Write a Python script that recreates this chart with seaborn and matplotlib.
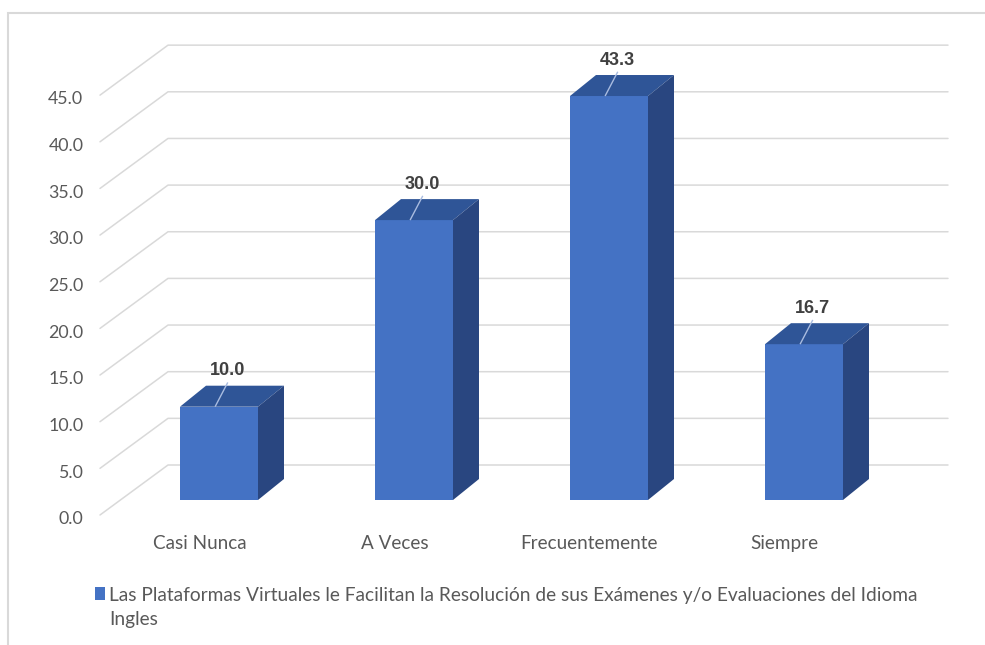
import matplotlib
matplotlib.use("Agg")
import matplotlib.pyplot as plt
import seaborn as sns
import pandas as pd
from matplotlib.patches import Polygon, Rectangle

# ---------------- data ----------------
categories = ["Casi Nunca", "A Veces", "Frecuentemente", "Siempre"]
values = [10.0, 30.0, 43.3, 16.7]
series_name = ("Las Plataformas Virtuales le Facilitan la Resolución de sus Exámenes y/o "
               "Evaluaciones del Idioma\nIngles")
y_ticks = [0, 5, 10, 15, 20, 25, 30, 35, 40, 45]
y_tick_labels = [f"{v:.1f}" for v in y_ticks]

# ---------------- style ----------------
sns.set_style("white")
plt.rcParams['font.family'] = ['Lato', 'DejaVu Sans']

FRONT = "#4472C4"
TOP = "#2F5597"
SIDE = "#294680"
GRID = "#D9D9D9"
TXT = "#595959"

W, H = 985, 645
fig = plt.figure(figsize=(W / 100, H / 100), dpi=100)

# pixel geometry of the pseudo-3D plane
PX_X, X0 = 195.0, 219.0          # px per category, px of category 0 centre
PX_Y, Y0 = 9.33, 500.0           # px per unit, px (from top) of value 0 on bar plane
x_left_px, x_right_px = 100, 948
xlim = ((x_left_px - X0) / PX_X, (x_right_px - X0) / PX_X)
ylim = (-2.0, 50.5)
bottom_px = Y0 - ylim[0] * PX_Y
top_px = Y0 - ylim[1] * PX_Y
ax = fig.add_axes([x_left_px / W, (H - bottom_px) / H,
                   (x_right_px - x_left_px) / W, (bottom_px - top_px) / H])

df = pd.DataFrame({"categoria": categories, "valor": values})
sns.barplot(data=df, x="categoria", y="valor", color=FRONT, saturation=1,
            width=0.4, ax=ax, zorder=3, edgecolor="none")

bars = list(ax.patches)
DX = 26 / PX_X
DY = 21 / PX_Y
for bar in bars:
    x0 = bar.get_x()
    w = bar.get_width()
    h = bar.get_height()
    x1 = x0 + w
    ax.add_patch(Polygon([(x0, h), (x1, h), (x1 + DX, h + DY), (x0 + DX, h + DY)],
                         closed=True, fc=TOP, ec="none", zorder=3))
    ax.add_patch(Polygon([(x1, 0), (x1, h), (x1 + DX, h + DY), (x1 + DX, DY)],
                         closed=True, fc=SIDE, ec="none", zorder=3))
    xc = x0 + w / 2
    ax.plot([xc - 0.02, xc + 0.045], [h, h + DY + 0.35], color="#A9BCE0", lw=1,
            zorder=4, solid_capstyle="butt")
    ax.text(xc + 0.045, h + DY + 1.6, f"{h:.1f}", ha="center", va="center",
            fontsize=13, fontweight="bold", color="#404040",
            family=["Liberation Sans", "DejaVu Sans"], zorder=5)

# slanted gridlines (front edge -> back wall)
x_back = (168 - X0) / PX_X
front_off = -15 / PX_Y
back_off = 35 / PX_Y
for v in y_ticks:
    ax.plot([xlim[0], x_back, xlim[1]], [v + front_off, v + back_off, v + back_off],
            color=GRID, lw=1.1, zorder=1, clip_on=False)

ax.set_xlim(*xlim)
ax.set_ylim(*ylim)
ax.set_yticks([v + front_off - 0.3 for v in y_ticks])
ax.set_yticklabels(y_tick_labels)
ax.set_xticks([i - 0.1 for i in range(len(categories))])
ax.set_xticklabels(categories)
ax.tick_params(axis="y", length=0, pad=12, labelsize=12.8, labelcolor=TXT)
ax.tick_params(axis="x", length=0, pad=12, labelsize=13.6, labelcolor=TXT)
ax.set_xlabel("")
ax.set_ylabel("")
for s in ax.spines.values():
    s.set_visible(False)
ax.set_facecolor("none")

# legend
handle = Rectangle((0, 0), 1, 1, fc=FRONT, ec="none")
leg = fig.legend([handle], [series_name], loc="upper left",
                 bbox_to_anchor=(95 / W, 1 - 587 / H), frameon=False, fontsize=13.8,
                 handlelength=0.5, handleheight=0.7, handletextpad=0.25,
                 borderpad=0, borderaxespad=0, labelcolor=TXT)
leg.get_texts()[0].set_linespacing(1.5)
hp = leg.legend_handles[0]
hp.set_y(hp.get_y() + 10.3)

# outer chart border
fig.patches.append(Rectangle((8 / W, -0.05), 1.1, 1 - 13 / H + 0.05,
                             transform=fig.transFigure, fill=False,
                             ec=GRID, lw=1.5))

fig.savefig("out.png", dpi=100)
